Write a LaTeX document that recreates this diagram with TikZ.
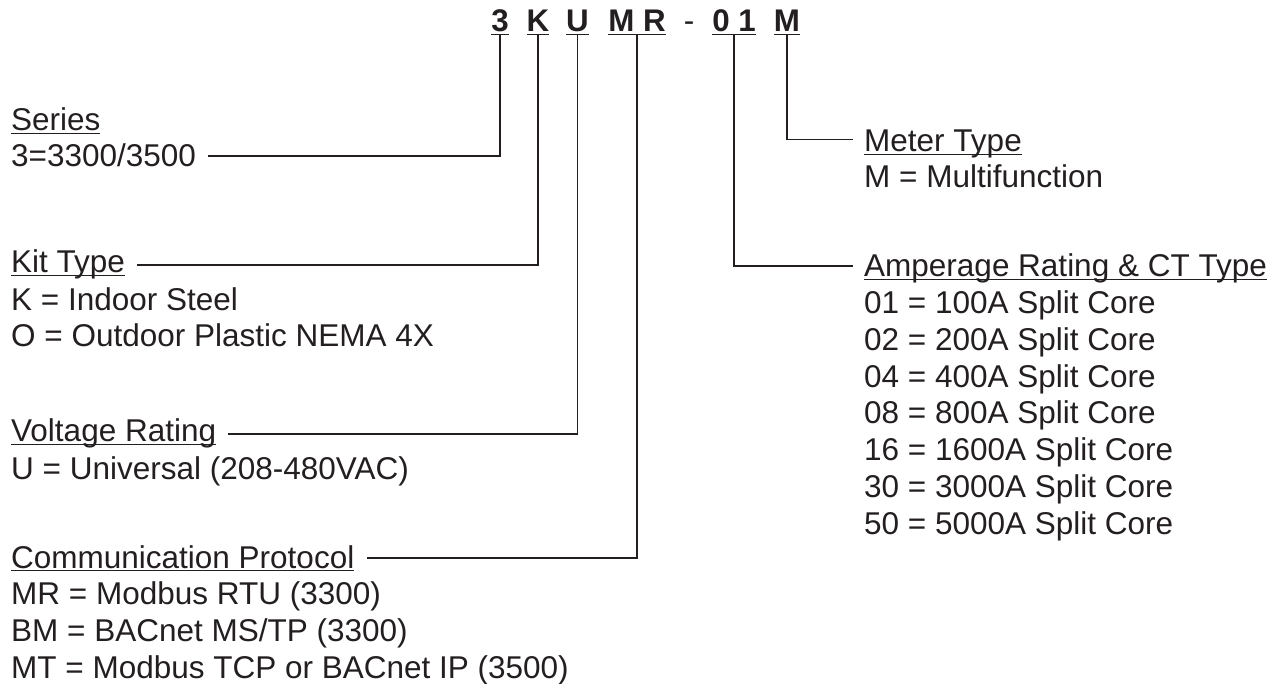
\documentclass[tikz,border=0pt]{standalone}
\usepackage{fontspec}
\setmainfont{Liberation Sans}
\usepackage{tikz}
\usetikzlibrary{positioning}
\definecolor{ink}{HTML}{231F20}
\newsavebox\ulbox
\newcommand{\ulin}[1]{\sbox\ulbox{#1}\rlap{\rule[-3.3pt]{\wd\ulbox}{1.5pt}}\usebox\ulbox}

\begin{document}
\begin{tikzpicture}[
x=1pt, y=-1pt,
    every node/.style={
        text=ink,
        inner sep=0pt,
        font=\fontsize{31.5}{36.7}\selectfont
    },
    code/.style={anchor=base, font=\fontsize{31.3}{36.7}\selectfont\bfseries},
    hdr/.style={anchor=base west},
    vals/.style={anchor=base west, align=left},
    lead/.style={draw=ink, line width=1.6pt}
]
\useasboundingbox (0,0) rectangle (1275,684);

% The part number
\node[code] (c3)  at (500,32)   {\ulin{3}};
\node[code] (cK)  at (538,32)   {\ulin{K}};
\node[code] (cU)  at (577.5,32) {\ulin{U}};
\node[code] (cMR) at (637,32)   {\ulin{M R}};
\node[anchor=base] (dash) at (689,32) {-};
\node[code] (c01) at (734,32)   {\ulin{0 1}};
\node[code] (cM)  at (787,32)   {\ulin{M}};

% The left column (multi-line nodes sit on their last line)
\node[hdr]  (series)    at (11,131) {\ulin{Series}};
\node[hdr]  (seriesval) at (11,167) {3=3300/3500};
\node[hdr]  (kit)       at (11,273) {\ulin{Kit Type}};
\node[vals] (kitval)    at (11,347) {K = Indoor Steel\\O = Outdoor Plastic NEMA 4X};
\node[hdr]  (volt)      at (11,442) {\ulin{Voltage Rating}};
\node[hdr]  (voltval)   at (11,479) {U = Universal (208-480VAC)};
\node[hdr]  (comm)      at (11,568) {\ulin{Communication Protocol}};
\node[vals] (commval)   at (11,678) {MR = Modbus RTU (3300)\\BM = BACnet MS/TP (3300)\\MT = Modbus TCP or BACnet IP (3500)};

% The right column
\node[hdr]  (meter)    at (864,152) {\ulin{Meter Type}};
\node[hdr]  (meterval) at (864,188) {M = Multifunction};
\node[hdr]  (amp)      at (864,277) {\ulin{Amperage Rating \& CT Type}};
\node[vals] (ampval)   at (864,534) {01 = 100A Split Core\\02 = 200A Split Core\\04 = 400A Split Core\\08 = 800A Split Core\\16 = 1600A Split Core\\30 = 3000A Split Core\\50 = 5000A Split Core};

% The leader lines
\draw[lead] (c3.south)  |- ([xshift=12pt]seriesval.east);
\draw[lead] (cK.south)  |- ([xshift=12pt]kit.east);
\draw[lead] (cU.south)  |- ([xshift=12pt]volt.east);
\draw[lead] (cMR.south) |- ([xshift=12pt]comm.east);
\draw[lead] (c01.south) |- ([xshift=-11pt,yshift=3pt]amp.west);
\draw[lead] (cM.south)  |- ([xshift=-11pt,yshift=5pt]meter.west);
\end{tikzpicture}
\end{document}
